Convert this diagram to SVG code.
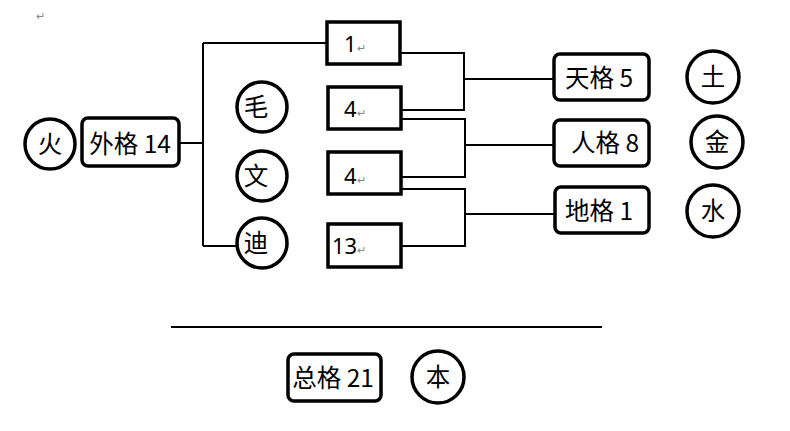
<svg xmlns="http://www.w3.org/2000/svg" width="790" height="431" viewBox="0 0 790 431">
<style>
.c{fill:#fff;stroke:#000;stroke-width:3.5}
.b{fill:#fff;stroke:#000;stroke-width:3.5}
.l{fill:none;stroke:#000;stroke-width:2}
.t{font-family:"Noto Sans CJK SC","Liberation Sans",sans-serif;font-size:24.5px;fill:#000;text-anchor:middle}
.n{font-family:"Noto Sans","Noto Sans CJK SC",sans-serif;font-size:22px;fill:#000}
.r{font-family:"Liberation Sans",sans-serif;font-size:11px;fill:#888}
</style>
<rect width="790" height="431" fill="#fff"/>
<text class="r" x="36" y="20">↵</text>
<g id="connectors">
<path class="l" d="M179,143 H203 M203,43 V246 M203,43 H327 M203,246 H237"/>
<path class="l" d="M400,53 H464 V110 H400 M464,79 H554"/>
<path class="l" d="M400,119 H465 V177 H400 M465,145 H554"/>
<path class="l" d="M400,189 H465 V246 H400 M465,214 H554"/>
<path class="l" d="M171,327 H602"/>
</g>
<g id="huo"><circle class="c" cx="50" cy="144" r="25"/><text class="t" x="50" y="153">火</text></g>
<g id="waige"><rect class="b" x="82" y="118" width="97" height="48" rx="6"/><text class="t" x="130" y="153">外格 14</text></g>
<g id="mao"><circle class="c" cx="262" cy="107" r="25"/><text class="t" x="256" y="116">毛</text></g>
<g id="wen"><circle class="c" cx="262" cy="176" r="25"/><text class="t" x="256" y="185">文</text></g>
<g id="di"><circle class="c" cx="262" cy="243" r="25"/><text class="t" x="256" y="252">迪</text></g>
<g id="n1"><rect class="b" x="327" y="22" width="73" height="42"/><text class="n" x="344" y="52">1</text><text class="r" x="357" y="52">↵</text></g>
<g id="n4a"><rect class="b" x="328" y="87" width="73" height="42"/><text class="n" x="344" y="117">4</text><text class="r" x="357" y="117">↵</text></g>
<g id="n4b"><rect class="b" x="328" y="152" width="73" height="42"/><text class="n" x="344" y="184">4</text><text class="r" x="357" y="184">↵</text></g>
<g id="n13"><rect class="b" x="328" y="224" width="73" height="43"/><text class="n" x="332" y="254">13</text><text class="r" x="357" y="254">↵</text></g>
<g id="tiange"><rect class="b" x="554" y="54" width="95" height="46" rx="6"/><text class="t" x="599" y="87">天格 5</text></g>
<g id="renge"><rect class="b" x="554" y="120" width="95" height="46" rx="6"/><text class="t" x="605" y="152">人格 8</text></g>
<g id="dige"><rect class="b" x="555" y="187" width="94" height="46" rx="6"/><text class="t" x="599" y="220">地格 1</text></g>
<g id="tu"><circle class="c" cx="713" cy="77" r="26"/><text class="t" x="713" y="86">土</text></g>
<g id="jin"><circle class="c" cx="717" cy="142" r="26"/><text class="t" x="717" y="151">金</text></g>
<g id="shui"><circle class="c" cx="713" cy="211" r="26"/><text class="t" x="713" y="220">水</text></g>
<g id="zongge"><rect class="b" x="288" y="354" width="93" height="47" rx="6"/><text class="t" x="333" y="387">总格 21</text></g>
<g id="ben"><circle class="c" cx="438" cy="377" r="26"/><text class="t" x="438" y="386">本</text></g>
</svg>
